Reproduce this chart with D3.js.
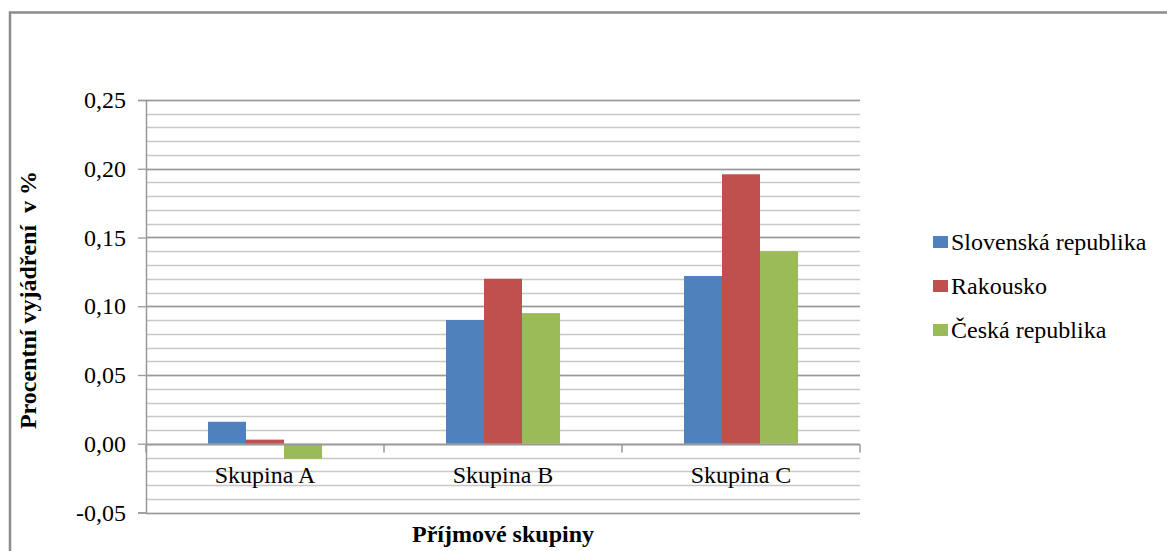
<!DOCTYPE html>
<html>
<head>
<meta charset="utf-8">
<script src="https://cdn.jsdelivr.net/npm/d3@7"></script>
<style>
  html, body { margin: 0; padding: 0; background: #fff; }
  svg text { font-family: "Times New Roman", "Liberation Serif", serif !important; }
</style>
</head>
<body>
<div id="chart"></div>
<script>
// chart data
const categories = ["Skupina A", "Skupina B", "Skupina C"];
const seriesNames = ["Slovenská republika", "Rakousko", "Česká republika"];
const slovensko = [0.016, 0.090, 0.122];
const rakousko = [0.003, 0.120, 0.196];
const cesko = [-0.011, 0.095, 0.140];
const seriesColors = ["#4F81BD", "#C0504D", "#9BBB59"];
const yTicks = [-0.05, 0, 0.05, 0.10, 0.15, 0.20, 0.25];

const W = 1167, H = 551;
const plot = { left: 146, right: 860, top: 100, bottom: 512.5 };

const svg = d3.select("#chart")
    .append("svg")
    .attr("width", W)
    .attr("height", H);

// outer frame
svg.append("rect")
    .attr("x", 10).attr("y", 12.5)
    .attr("width", W + 20).attr("height", H + 20)
    .attr("fill", "none")
    .attr("stroke", "#8c8c8c")
    .attr("stroke-width", 2.5);

const y = d3.scaleLinear()
    .domain([-0.05, 0.25])
    .range([plot.bottom, plot.top]);

const x = d3.scaleBand()
    .domain(categories)
    .range([plot.left, plot.right]);

const xSub = d3.scaleBand()
    .domain(seriesNames)
    .range([0, x.bandwidth()])
    .paddingInner(0)
    .paddingOuter(1.63);

// minor gridlines
svg.append("g")
    .selectAll("line")
    .data(y.ticks(30))
    .join("line")
    .attr("x1", plot.left).attr("x2", plot.right)
    .attr("y1", d => Math.round(y(d)) + 0.5)
    .attr("y2", d => Math.round(y(d)) + 0.5)
    .attr("stroke", "#c8c8c8")
    .attr("stroke-width", 1.3);

// major gridlines
svg.append("g")
    .selectAll("line")
    .data(yTicks)
    .join("line")
    .attr("x1", plot.left).attr("x2", plot.right)
    .attr("y1", d => Math.round(y(d)) + 0.5)
    .attr("y2", d => Math.round(y(d)) + 0.5)
    .attr("stroke", "#999")
    .attr("stroke-width", 1.3);

// y axis
const yAxis = d3.axisLeft(y)
    .tickValues(yTicks)
    .tickSize(8)
    .tickPadding(12)
    .tickFormat(d => d3.format(".2f")(d).replace(".", ",").replace("−", "-"));

const yg = svg.append("g")
    .attr("transform", `translate(${plot.left},0)`)
    .call(yAxis)
    .attr("font-family", null)
    .attr("font-size", null);
yg.select(".domain").attr("stroke", "#999").attr("stroke-width", 1.5);
yg.selectAll(".tick line").attr("stroke", "#999").attr("stroke-width", 1.3);
yg.selectAll(".tick text")
    .attr("font-size", 24)
    .attr("fill", "#000");

// bars
const data = [slovensko, rakousko, cesko];
seriesNames.forEach((name, si) => {
    svg.append("g")
        .selectAll("rect")
        .data(categories.map((c, i) => ({ c, v: data[si][i] })))
        .join("rect")
        .attr("x", d => x(d.c) + xSub(name))
        .attr("width", xSub.bandwidth())
        .attr("y", d => y(Math.max(0, d.v)))
        .attr("height", d => Math.abs(y(d.v) - y(0)))
        .attr("fill", seriesColors[si]);
});

// zero line and category separators
const y0 = Math.round(y(0)) + 0.5;
svg.append("line")
    .attr("x1", plot.left).attr("x2", plot.right)
    .attr("y1", y0).attr("y2", y0)
    .attr("stroke", "#999").attr("stroke-width", 1.3);

svg.append("g")
    .selectAll("line")
    .data(d3.range(categories.length + 1))
    .join("line")
    .attr("x1", i => plot.left + i * x.bandwidth())
    .attr("x2", i => plot.left + i * x.bandwidth())
    .attr("y1", y0).attr("y2", y0 + 8)
    .attr("stroke", "#999").attr("stroke-width", 1.5);

// category labels
svg.append("g")
    .selectAll("text")
    .data(categories)
    .join("text")
    .attr("x", d => x(d) + x.bandwidth() / 2)
    .attr("y", 483)
    .attr("text-anchor", "middle")
    .attr("font-size", 24)
    .text(d => d);

// axis titles
svg.append("text")
    .attr("x", (plot.left + plot.right) / 2)
    .attr("y", 542)
    .attr("text-anchor", "middle")
    .attr("font-size", 24)
    .attr("font-weight", "bold")
    .text("Příjmové skupiny");

svg.append("text")
    .attr("transform", "translate(36,300) rotate(-90)")
    .attr("text-anchor", "middle")
    .attr("font-size", 24)
    .attr("font-weight", "bold")
    .attr("xml:space", "preserve")
    .text("Procentní vyjádření  v %");

// legend
const legend = svg.append("g")
    .attr("transform", "translate(933,242)");
const items = legend.selectAll("g")
    .data(seriesNames)
    .join("g")
    .attr("transform", (d, i) => `translate(0,${i * 44})`);
items.append("rect")
    .attr("x", 0).attr("y", -6)
    .attr("width", 15).attr("height", 12)
    .attr("fill", (d, i) => seriesColors[i]);
items.append("text")
    .attr("x", 18).attr("y", 0)
    .attr("dy", "0.35em")
    .attr("font-size", 24)
    .text(d => d);
</script>
</body>
</html>
